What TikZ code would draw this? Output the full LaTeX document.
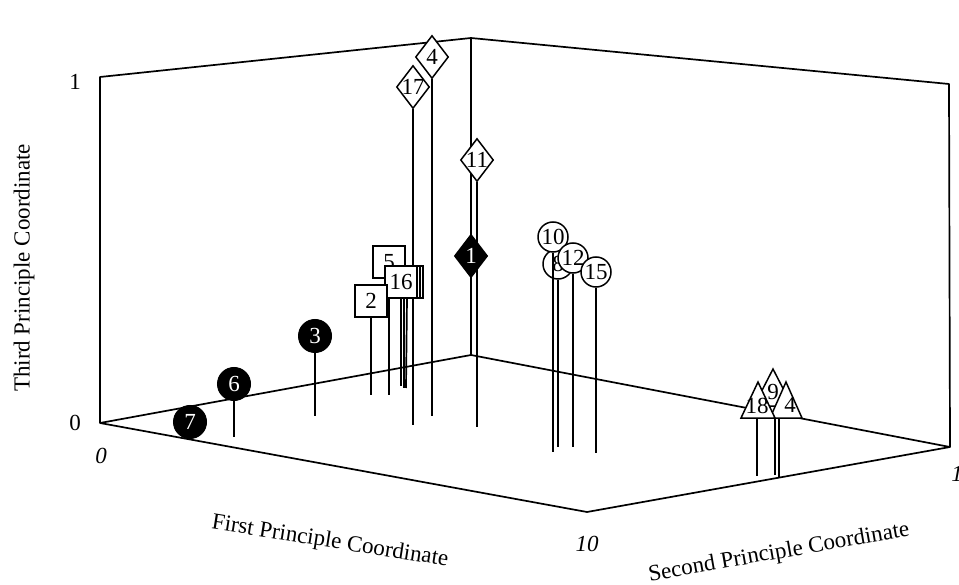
\documentclass[tikz,border=0pt]{standalone}
\usepackage{fontspec}
\setmainfont{Liberation Serif}
\usetikzlibrary{shapes.geometric}
\begin{document}
\begin{tikzpicture}[x=1pt,y=-1pt,
  every node/.style={font=\fontsize{23}{27}\selectfont},
  edge/.style={line width=1.7pt, line join=round},
  stem/.style={line width=1.7pt},
  bcirc/.style={circle,draw,fill=black,text=white,minimum size=33pt,inner sep=0pt,line width=1pt},
  ocirc/.style={circle,draw,fill=white,minimum size=30pt,inner sep=0pt,line width=1.5pt},
  osq/.style={rectangle,draw,fill=white,minimum width=32pt,minimum height=32pt,inner sep=0pt,line width=1.5pt},
  odia/.style={diamond,draw,fill=white,minimum width=33pt,minimum height=43pt,inner sep=0pt,line width=1.5pt},
  bdia/.style={odia,fill=black},
  tri/.style={draw,fill=white,line width=1.5pt,line join=miter},
]
\useasboundingbox (0,0) rectangle (959,585);
% box
\coordinate (LT) at (100,77);
\coordinate (LB) at (100,423);
\coordinate (BT) at (471,38);
\coordinate (BB) at (471,355);
\coordinate (RT) at (949,84);
\coordinate (RB) at (950,447);
\coordinate (FB) at (587,512);
\draw[edge] (LB) -- (LT) -- (BT) -- (RT) -- (RB) -- (BB) -- (LB) -- (FB) -- (RB);
\draw[edge] (BT) -- (BB);
% axis labels
\node (t1) at (75,82) {1};
\node (t0) at (75,423) {0};
\node (x0) at (101,456) {\itshape 0};
\node (x10) at (587,544) {\itshape 10};
\node (y1) at (957,474) {\itshape 1};
\node[rotate=90] (tz) at (24,268) {Third Principle Coordinate};
\node[rotate=-9] (tx) at (330,542) {First Principle Coordinate};
\node[rotate=10] (ty) at (779,553) {Second Principle Coordinate};
% diamonds
\coordinate (g4) at (432,416);
\node[odia,label=center:4] (m4) at (432,57) {};
\draw[stem] (m4.south) -- (g4);
\coordinate (g17) at (413,425);
\node[odia,label=center:17] (m17) at (413,87) {};
\draw[stem] (m17.south) -- (g17);
\coordinate (g11) at (477,427);
\node[odia,label=center:11] (m11) at (477,160) {};
\draw[stem] (m11.south) -- (g11);
\coordinate (g1) at (471,355);
\node[bdia,label={[text=white]center:1}] (m1) at (471,256) {};
\draw[stem] (m1.south) -- (g1);
% squares
\coordinate (g5) at (389,395);
\node[osq] (m5) at (389,262) {5};
\draw[stem] (m5.south) -- (g5);
\coordinate (gs2) at (406,388);
\node[osq] (s2) at (407,282) {};
\draw[stem] (s2.south) -- (gs2);
\coordinate (gs1) at (404,388);
\node[osq] (s1) at (404,282) {};
\draw[stem] (s1.south) -- (gs1);
\coordinate (g16) at (401,386);
\node[osq] (m16) at (401,282) {16};
\draw[stem] (m16.south) -- (g16);
\coordinate (g2) at (371,395);
\node[osq] (m2) at (371,301) {2};
\draw[stem] (m2.south) -- (g2);
% black circles
\coordinate (g3) at (315,416);
\node[bcirc] (m3) at (315,336) {3};
\draw[stem] (m3.south) -- (g3);
\coordinate (g6) at (234,437);
\node[bcirc] (m6) at (234,384) {6};
\draw[stem] (m6.south) -- (g6);
\node[bcirc] (m7) at (190,422) {7};
% open circles
\coordinate (g8) at (558,447);
\node[ocirc] (m8) at (558,264) {8};
\draw[stem] (m8.south) -- (g8);
\coordinate (g10) at (553,452);
\node[ocirc] (m10) at (553,237) {10};
\draw[stem] (m10.south) -- (g10);
\coordinate (g12) at (573,447);
\node[ocirc] (m12) at (573,258) {12};
\draw[stem] (m12.south) -- (g12);
\coordinate (g15) at (596,453);
\node[ocirc] (m15) at (596,272) {15};
\draw[stem] (m15.south) -- (g15);
% triangles
\coordinate (a9) at (773,369);
\coordinate (b9) at (775,406);
\coordinate (g9) at (775,475);
\draw[stem] (b9) -- (g9);
\draw[tri] (a9) -- (754,406) -- (792,406) -- cycle;
\coordinate (a14) at (786,382);
\coordinate (b14) at (779,418);
\coordinate (g14) at (779,477);
\draw[stem] (b14) -- (g14);
\draw[tri] (a14) -- (770,418) -- (802,418) -- cycle;
\coordinate (a18) at (758,382);
\coordinate (b18) at (757,418);
\coordinate (g18) at (757,476);
\draw[stem] (b18) -- (g18);
\draw[tri] (a18) -- (741,418) -- (775,418) -- cycle;
\node (l9) at (773,392) {9};
\node (l14) at (790,405) {4};
\node (l18) at (757,406) {18};
\end{tikzpicture}
\end{document}
